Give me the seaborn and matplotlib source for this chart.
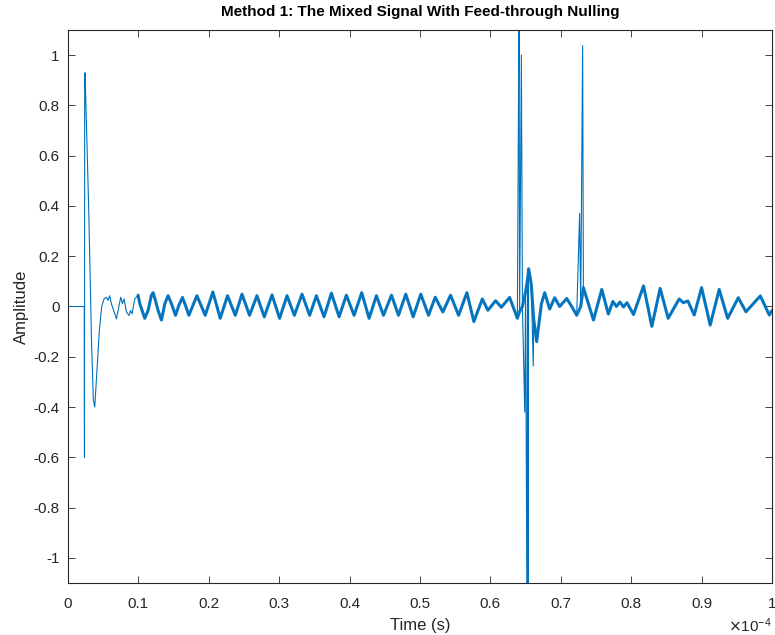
import numpy as np
import pandas as pd
import matplotlib
matplotlib.use("Agg")
import matplotlib.pyplot as plt
import seaborn as sns

# Mixed signal after feed-through nulling: sampled turning points (time in microseconds)
trace_time_us = [
    0.00, 2.31, 2.37, 2.42, 2.56, 2.75, 2.94, 3.13, 3.35, 3.60, 3.80, 4.08, 4.45, 4.79,
    5.12, 5.45, 5.69, 5.93, 6.16, 6.64, 6.88, 7.35, 7.49, 7.73, 7.97, 8.30, 8.68, 8.87,
    9.10, 9.48, 9.96, 10.20, 10.53, 10.90, 11.38, 11.85, 12.09, 12.42, 12.80, 13.28,
    13.75, 14.22, 14.70, 15.27, 15.74, 16.26, 16.69, 17.17, 18.31, 19.49, 20.58, 21.62,
    22.66, 23.76, 24.71, 25.79, 26.84, 27.88, 28.98, 30.06, 31.11, 32.15, 33.24, 34.32,
    35.28, 36.37, 37.41, 38.51, 39.54, 40.64, 41.72, 42.77, 43.81, 44.81, 45.95, 46.94,
    47.98, 49.03, 50.11, 51.21, 52.16, 53.24, 54.34, 55.48, 56.66, 57.65, 58.85, 59.64,
    60.74, 61.55, 62.73, 63.83, 64.15, 64.55, 65.00, 65.28, 65.43, 65.80, 66.15, 66.57,
    67.24, 67.71, 68.42, 69.13, 69.84, 70.84, 71.55, 72.26, 72.83, 73.21, 74.64, 75.82,
    76.75, 77.40, 77.90, 78.40, 78.90, 79.40, 80.33, 81.75, 82.93, 84.11, 85.25, 86.81,
    87.40, 88.05, 88.95, 90.00, 91.22, 92.50, 93.70, 95.21, 96.30, 98.34, 99.62, 100.00,
]
trace_amp = [
    0.000, 0.000, 0.900, 0.930, 0.790, 0.590, 0.390, 0.130, -0.150, -0.370, -0.400, -0.270,
    -0.095, 0.000, 0.030, 0.037, 0.024, 0.043, 0.011, -0.029, -0.049, 0.017, 0.037, 0.011,
    0.030, -0.022, -0.036, -0.016, -0.029, 0.030, 0.045, 0.011, -0.016, -0.047, -0.016,
    0.045, 0.055, 0.024, -0.016, -0.054, 0.011, 0.043, 0.011, -0.035, 0.004, 0.036, 0.004,
    -0.035, 0.043, -0.035, 0.058, -0.047, 0.043, -0.035, 0.049, -0.035, 0.043, -0.041,
    0.046, -0.047, 0.043, -0.035, 0.049, -0.035, 0.043, -0.041, 0.053, -0.041, 0.045,
    -0.035, 0.055, -0.047, 0.043, -0.035, 0.045, -0.035, 0.049, -0.041, 0.049, -0.035,
    0.037, -0.022, 0.045, -0.035, 0.055, -0.060, 0.030, -0.015, 0.023, -0.003, 0.036,
    -0.047, -0.020, 0.000, 0.060, 0.110, 0.150, 0.090, -0.050, -0.140, 0.010, 0.055,
    -0.010, 0.035, 0.000, 0.032, 0.000, -0.035, 0.000, 0.075, -0.054, 0.068, -0.030,
    0.020, 0.000, 0.018, -0.002, 0.015, -0.032, 0.082, -0.079, 0.072, -0.047, 0.030,
    0.015, 0.022, -0.034, 0.075, -0.074, 0.068, -0.047, 0.035, -0.021, 0.042, -0.034,
    -0.016,
]

# Single-sample glitches (switching transients)
spike_time_us = [2.34, 64.07, 64.40, 64.88, 65.20, 65.36, 66.09, 72.67, 73.10]
spike_amp = [-0.60, 1.25, 1.00, -0.42, -1.30, -1.25, -0.237, 0.37, 1.037]

x_tick_values = [0.0, 0.1, 0.2, 0.3, 0.4, 0.5, 0.6, 0.7, 0.8, 0.9, 1.0]   # x 1e-4 s
x_tick_labels = ["0", "0.1", "0.2", "0.3", "0.4", "0.5", "0.6", "0.7", "0.8", "0.9", "1"]
y_tick_values = [-1.0, -0.8, -0.6, -0.4, -0.2, 0.0, 0.2, 0.4, 0.6, 0.8, 1.0]
y_tick_labels = ["-1", "-0.8", "-0.6", "-0.4", "-0.2", "0", "0.2", "0.4", "0.6", "0.8", "1"]

LINE_BLUE = "#0072BD"
AXIS_GRAY = "#262626"

sns.set_theme(style="ticks")
plt.rcParams["font.family"] = ["Liberation Sans", "DejaVu Sans"]
plt.rcParams["axes.unicode_minus"] = False

trace = pd.DataFrame({"time": np.array(trace_time_us) * 1e-6, "amp": trace_amp})
spikes = pd.DataFrame({"time": np.array(spike_time_us) * 1e-6, "amp": spike_amp})
full = pd.concat([trace, spikes]).sort_values("time").reset_index(drop=True)
dense = trace[trace["time"] >= 9.5e-6]

fig = plt.figure(figsize=(7.75, 6.35), dpi=100)
ax = fig.add_axes([68 / 775, 1 - 583 / 635, 704 / 775, 553 / 635])

# thin full-resolution trace, including glitches
sns.lineplot(data=full, x="time", y="amp", ax=ax, color=LINE_BLUE, linewidth=0.8,
             estimator=None, sort=False)
# broadband noise widens the steady-state ripple
sns.lineplot(data=dense, x="time", y="amp", ax=ax, color=LINE_BLUE, linewidth=2.2,
             estimator=None, sort=False, solid_joinstyle="round", alpha=0.95)

ax.set_xlim(0, 1e-4)
ax.set_ylim(-1.1, 1.1)
ax.set_xticks([v * 1e-4 for v in x_tick_values])
ax.set_xticklabels(x_tick_labels)
ax.set_yticks(y_tick_values)
ax.set_yticklabels(y_tick_labels)
ax.tick_params(direction="in", length=5, width=0.6, top=True, right=True,
               labelsize=11, colors=AXIS_GRAY)
ax.tick_params(axis="x", pad=10)
ax.tick_params(axis="y", pad=6)
for side in ["left", "right", "top", "bottom"]:
    ax.spines[side].set_visible(True)
    ax.spines[side].set_color(AXIS_GRAY)
    ax.spines[side].set_linewidth(0.8)

ax.set_xlabel("Time (s)", fontsize=12, color=AXIS_GRAY, labelpad=5)
ax.set_ylabel("Amplitude", fontsize=12, color=AXIS_GRAY, labelpad=3)
ax.set_title("Method 1: The Mixed Signal With Feed-through Nulling",
             fontsize=11, fontweight="bold", color="black", pad=10)
ax.text(1.0, -0.078, r"$\times\mathregular{10^{-4}}$", transform=ax.transAxes,
        ha="right", va="center", fontsize=11, color=AXIS_GRAY)

fig.savefig("out.png", dpi=100)
